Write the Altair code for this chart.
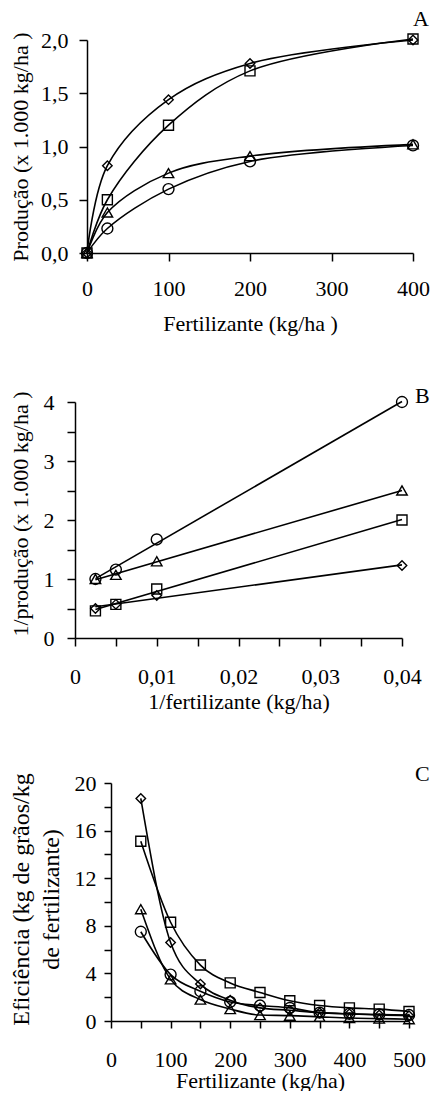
import altair as alt
import pandas as pd

FONT = "Liberation Serif"
FS = 22

series = ["losango", "quadrado", "triangulo", "circulo"]
shapes = ["diamond", "square", "triangle-up", "circle"]
sizes = [90, 120, 110, 110]
letters = ["A", "B", "C"]

# Panel A: production vs fertilizer
a_fert = [0, 25, 100, 200, 400]
a_losango = [0.0, 0.82, 1.44, 1.78, 2.00]
a_quadrado = [0.0, 0.50, 1.20, 1.71, 2.01]
a_triangulo = [0.0, 0.38, 0.75, 0.91, 1.02]
a_circulo = [0.0, 0.23, 0.60, 0.86, 1.01]

# Panel B: 1/production vs 1/fertilizer
b_inv = [0.0025, 0.005, 0.01, 0.04]
b_losango = [0.50, 0.57, 0.72, 1.23]
b_quadrado = [0.46, 0.57, 0.83, 2.00]
b_triangulo = [1.00, 1.07, 1.30, 2.50]
b_circulo = [1.00, 1.16, 1.67, 4.00]

# Panel C: efficiency vs fertilizer
c_fert = [50, 100, 150, 200, 250, 300, 350, 400, 450, 500]
c_losango = [18.7, 6.6, 3.1, 1.75, 1.1, 0.9, 0.7, 0.6, 0.5, 0.45]
c_quadrado = [15.1, 8.3, 4.7, 3.2, 2.4, 1.7, 1.3, 1.1, 1.0, 0.8]
c_triangulo = [9.4, 3.5, 1.8, 1.0, 0.5, 0.45, 0.35, 0.25, 0.2, 0.15]
c_circulo = [7.5, 3.9, 2.5, 1.6, 1.3, 1.1, 0.7, 0.6, 0.55, 0.5]


def long(xs, cols):
    rows = []
    for s, ys in zip(series, cols):
        for xv, yv in zip(xs, ys):
            rows.append({"x": xv, "y": yv, "serie": s})
    return pd.DataFrame(rows)


df_a = long(a_fert, [a_losango, a_quadrado, a_triangulo, a_circulo])
df_b = long(b_inv, [b_losango, b_quadrado, b_triangulo, b_circulo])
df_c = long(c_fert, [c_losango, c_quadrado, c_triangulo, c_circulo])

shape_enc = alt.Shape("serie:N", scale=alt.Scale(domain=series, range=shapes), legend=None)
size_enc = alt.Size("serie:N", scale=alt.Scale(domain=series, range=sizes), legend=None)


def letter_title(t, dx, offset):
    return alt.TitleParams(t, anchor="end", align="left", dx=dx, offset=offset,
                           baseline="alphabetic", font=FONT, fontSize=FS,
                           fontWeight="normal", color="black", frame="group")


def panel(df, xdom, ydom, shift, w, h, xaxis, yaxis, letter, ldx, ldy,
          interp=None, regression=False, title=None):
    x = alt.X("x:Q", scale=alt.Scale(domain=xdom, range=[shift, shift + w], nice=False,
                                     zero=False), axis=xaxis)
    y = alt.Y("y:Q", scale=alt.Scale(domain=ydom, nice=False, zero=False), axis=yaxis)
    base = alt.Chart(df)
    if regression:
        lines = base.transform_regression("x", "y", groupby=["serie"]).mark_line(
            color="black", strokeWidth=1.6
        ).encode(x=x, y=y, detail="serie:N")
    else:
        lines = base.mark_line(color="black", strokeWidth=1.6, interpolate=interp).encode(
            x=x, y=y, detail="serie:N"
        )
    pts = base.mark_point(filled=False, color="black", strokeWidth=1.4, opacity=1).encode(
        x=x, y=y, shape=shape_enc, size=size_enc
    )
    layers = [lines, pts]
    if letter is not None:
        # panel letter anchored at the top-right corner of the data domain
        lab = alt.Chart(pd.DataFrame({"x": [xdom[1]], "y": [ydom[1]], "t": [letter]})).mark_text(
            align="left", baseline="alphabetic", dx=ldx, dy=ldy, font=FONT, fontSize=FS,
            color="black"
        ).encode(x=x, y=y, text="t:N")
        layers.append(lab)
    out = alt.layer(*layers).properties(width=shift + w, height=h)
    if title is not None:
        out = out.properties(title=title)
    return out


xcommon = dict(labelFlush=False, labelOverlap=False, labelBaseline="alphabetic",
               titleBaseline="alphabetic")
ycommon = dict(labelFlush=False, labelOverlap=False, labelBaseline="middle",
               titleBaseline="alphabetic")

# ---- Panel A (y axis 12 px right of common origin)
ax_a = alt.Axis(values=[0, 100, 200, 300, 400], format="d", title="Fertilizante (kg/ha )",
                tickSize=8, labelPadding=34, titleY=77, titleX=12 + 163, **xcommon)
ay_a = alt.Axis(values=[0, 0.5, 1.0, 1.5, 2.0],
                labelExpr="replace(format(datum.value, '.1f'), '.', ',')",
                title="Produção (x 1.000 kg/ha )", tickSize=8, labelPadding=11,
                offset=-12, titleX=-60, titleY=-8, titleAlign="right", **ycommon)
chart_a = panel(df_a, [0, 400], [0, 2], 12, 326, 213, ax_a, ay_a, None, 0, 0,
                interp="catmull-rom", title=letter_title(letters[0], 0, -19))

# ---- Panel B
bx_vals = [0, 0.005, 0.01, 0.015, 0.02, 0.025, 0.03, 0.035, 0.04]
ax_b = alt.Axis(values=bx_vals,
                labelExpr="round(datum.value*1000) % 10 == 0 ? (datum.value == 0 ? '0' : replace(format(datum.value, '.2f'), '.', ',')) : ''",
                title="1/fertilizante (kg/ha)", tickSize=8, labelPadding=37, titleY=70,
                **xcommon)
ay_b = alt.Axis(values=[0, 0.5, 1, 1.5, 2, 2.5, 3, 3.5, 4],
                labelExpr="datum.value % 1 == 0 ? format(datum.value, 'd') : ''",
                title="1/produção (x 1.000 kg/ha )", tickSize=8, labelPadding=13,
                titleX=-48, titleY=-11, titleAlign="right", **ycommon)
chart_b = panel(df_b, [0, 0.04], [0, 4], 0, 327, 236, ax_b, ay_b, letters[1], 13, 1,
                regression=True)

# ---- Panel C (y axis 36 px right of common origin)
cx_vals = list(range(0, 501, 50))
ax_c = alt.Axis(values=cx_vals,
                labelExpr="datum.value % 100 == 0 ? format(datum.value, 'd') : ''",
                title="Fertilizante (kg/ha)", tickSize=7, labelPadding=38, titleY=66,
                titleX=36 + 149, **xcommon)
ay_c = alt.Axis(values=list(range(0, 21, 2)),
                labelExpr="datum.value % 4 == 0 ? format(datum.value, 'd') : ''",
                title=["Eficiência (kg de grãos/kg", "de fertilizante)"],
                tickSize=7, labelPadding=8, offset=-36, titleX=-83, titleY=116,
                titleAlign="center", titleLineHeight=30, titleFontSize=24, **ycommon)
chart_c = panel(df_c, [0, 500], [0, 20], 36, 298, 238, ax_c, ay_c, letters[2], 6, -2,
                interp="monotone")

chart = alt.vconcat(chart_a, chart_b, chart_c, spacing=51).properties(
    padding={"left": 0, "top": 0, "right": 0, "bottom": 0},
).configure_axis(
    domainColor="black", domainWidth=1.5, tickColor="black", tickWidth=1.5,
    labelColor="black", titleColor="black", labelFont=FONT, titleFont=FONT,
    labelFontSize=FS, titleFontSize=FS, titleFontWeight="normal", grid=False,
).configure_view(stroke=None)

chart.save("out.html", embed_options={"renderer": "svg", "actions": False})
